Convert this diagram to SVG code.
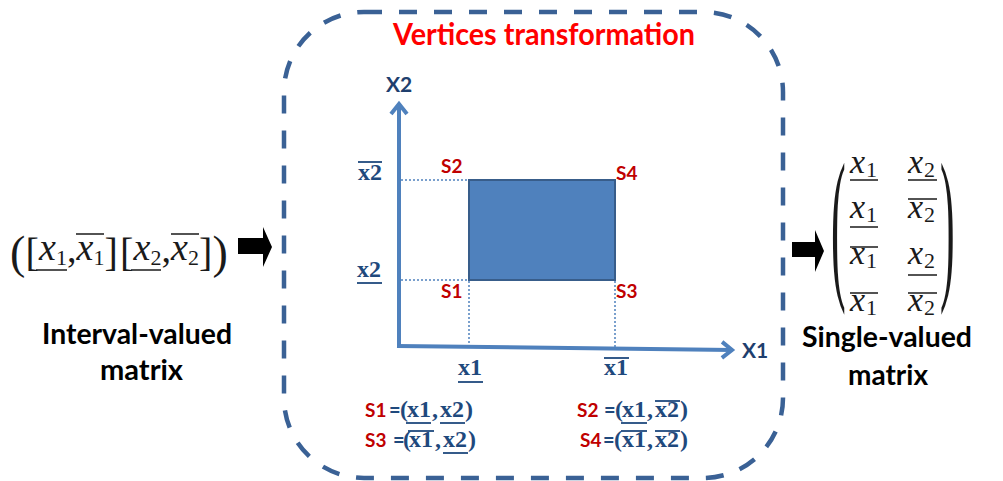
<svg xmlns="http://www.w3.org/2000/svg" width="1003" height="481" viewBox="0 0 1003 481">
<style>
.sans{font-family:Lato,"Open Sans","Liberation Sans",sans-serif;font-weight:bold}
.blk{fill:#000}
.red{fill:#C00000}
.navy{fill:#1F497D}
.bser{font-family:"Liberation Serif",serif;font-weight:bold;fill:#1F497D}
.mx{font-family:"Liberation Serif","Times New Roman",serif;fill:#1a1a1a}
.bar{stroke:#1a1a1a;stroke-width:1.5}
.nbar{stroke:#1F497D;stroke-width:1.8}
.dot{stroke:#4F81BD;stroke-width:1.5;stroke-dasharray:2 2;fill:none}
.axis{stroke:#4F81BD;stroke-width:4;fill:none}
</style>
<defs>
<marker id="open" viewBox="-14 -12 18 24" markerUnits="userSpaceOnUse" markerWidth="18" markerHeight="24" refX="0" refY="0" orient="auto">
<path d="M-10,-8 L0,0 L-10,8" fill="none" stroke="#4F81BD" stroke-width="4" stroke-linejoin="miter"/>
</marker>
</defs>
<rect width="1003" height="481" fill="#fff"/>

<g id="frame">
<rect x="284" y="12" width="499" height="466" rx="80" ry="80" fill="none" stroke="#3A6195" stroke-width="4.5" stroke-dasharray="18 17"/>
<text class="sans" x="393" y="45" font-size="31" fill="#FF0000" textLength="302" lengthAdjust="spacingAndGlyphs">Vertices transformation</text>
</g>

<g id="interval-matrix">
<text class="mx" font-size="38"><tspan x="10" y="268" font-size="46">(</tspan><tspan x="25.5" y="266" font-size="40">[</tspan><tspan x="39" y="260" font-style="italic">x</tspan><tspan x="56" y="265" font-size="22">1</tspan><tspan x="67" y="262">,</tspan><tspan x="76.5" y="260" font-style="italic">x</tspan><tspan x="93.5" y="265" font-size="22">1</tspan><tspan x="104.5" y="266" font-size="40">]</tspan><tspan x="120" y="266" font-size="40">[</tspan><tspan x="133.5" y="260" font-style="italic">x</tspan><tspan x="150.5" y="265" font-size="22">2</tspan><tspan x="161.5" y="262">,</tspan><tspan x="171" y="260" font-style="italic">x</tspan><tspan x="188" y="265" font-size="22">2</tspan><tspan x="199" y="266" font-size="40">]</tspan><tspan x="212.5" y="268" font-size="46">)</tspan></text>
<line class="bar" x1="36" y1="270" x2="67" y2="270"/>
<line class="bar" x1="76" y1="234" x2="104" y2="234"/>
<line class="bar" x1="131" y1="270" x2="161" y2="270"/>
<line class="bar" x1="171" y1="234" x2="199" y2="234"/>
<text class="sans blk" x="42" y="344" font-size="28" textLength="190" lengthAdjust="spacingAndGlyphs">Interval-valued</text>
<text class="sans blk" x="100" y="380" font-size="28" textLength="83" lengthAdjust="spacingAndGlyphs">matrix</text>
</g>

<g id="plot">
<rect x="469" y="180" width="146" height="100" fill="#4F81BD" stroke="#385D8A" stroke-width="2"/>
<text class="sans" x="386" y="92" font-size="21" fill="#1F3F6E">X2</text>
<text class="sans" x="742" y="358" font-size="21" fill="#1F3F6E">X1</text>
<text class="sans red" x="441" y="173" font-size="19">S2</text>
<text class="sans red" x="616" y="180" font-size="19">S4</text>
<text class="sans red" x="441" y="298" font-size="19">S1</text>
<text class="sans red" x="616" y="298" font-size="19">S3</text>
<text class="bser" x="358" y="180" font-size="24">x2</text>
<line class="nbar" x1="358" y1="162" x2="382" y2="162"/>
<text class="bser" x="357" y="277" font-size="24">x2</text>
<line class="nbar" x1="357" y1="283" x2="382" y2="283"/>
<text class="bser" x="458" y="375" font-size="24">x1</text>
<line class="nbar" x1="458" y1="382" x2="483" y2="382"/>
<text class="bser" x="604" y="375" font-size="24">x1</text>
<line class="nbar" x1="604" y1="358" x2="629" y2="358"/>
</g>

<g id="vertices">
<text class="sans red" x="365" y="417" font-size="19">S1</text>
<text class="bser" font-size="24"><tspan class="sans" x="389" y="417" font-size="20">=</tspan><tspan x="400" y="417">(</tspan><tspan x="407">x1</tspan><tspan x="432">,</tspan><tspan x="440">x2</tspan><tspan x="465">)</tspan></text>
<line class="nbar" x1="406" y1="423" x2="431" y2="423"/>
<line class="nbar" x1="440" y1="423" x2="465" y2="423"/>

<text class="sans red" x="365" y="447" font-size="19">S3</text>
<text class="bser" font-size="24"><tspan class="sans" x="393" y="447" font-size="20">=</tspan><tspan x="403" y="447">(</tspan><tspan x="409">x1</tspan><tspan x="435">,</tspan><tspan x="443">x2</tspan><tspan x="468">)</tspan></text>
<line class="nbar" x1="408" y1="431" x2="434" y2="431"/>
<line class="nbar" x1="443" y1="453" x2="468" y2="453"/>

<text class="sans red" x="577" y="417" font-size="19">S2</text>
<text class="bser" font-size="24"><tspan class="sans" x="604" y="417" font-size="20">=</tspan><tspan x="615" y="417">(</tspan><tspan x="622">x1</tspan><tspan x="647">,</tspan><tspan x="655">x2</tspan><tspan x="680">)</tspan></text>
<line class="nbar" x1="621" y1="423" x2="647" y2="423"/>
<line class="nbar" x1="655" y1="401" x2="680" y2="401"/>

<text class="sans red" x="580" y="447" font-size="19">S4</text>
<text class="bser" font-size="24"><tspan class="sans" x="603" y="447" font-size="20">=</tspan><tspan x="614" y="447">(</tspan><tspan x="622">x1</tspan><tspan x="647">,</tspan><tspan x="655">x2</tspan><tspan x="680">)</tspan></text>
<line class="nbar" x1="621" y1="431" x2="647" y2="431"/>
<line class="nbar" x1="655" y1="431" x2="680" y2="431"/>
</g>

<g id="single-matrix">
<text class="mx" transform="translate(831,279) scale(1,3.8)" font-size="44">(</text>
<text class="mx" transform="translate(940,279) scale(1,3.8)" font-size="44">)</text>
<text class="mx" font-size="34"><tspan x="850" y="173" font-style="italic">x</tspan><tspan x="866" y="177" font-size="22">1</tspan><tspan x="908" y="173" font-style="italic">x</tspan><tspan x="924" y="177" font-size="22">2</tspan></text>
<text class="mx" font-size="34"><tspan x="850" y="218" font-style="italic">x</tspan><tspan x="866" y="222" font-size="22">1</tspan><tspan x="908" y="218" font-style="italic">x</tspan><tspan x="924" y="222" font-size="22">2</tspan></text>
<text class="mx" font-size="34"><tspan x="850" y="264" font-style="italic">x</tspan><tspan x="866" y="268" font-size="22">1</tspan><tspan x="908" y="264" font-style="italic">x</tspan><tspan x="924" y="268" font-size="22">2</tspan></text>
<text class="mx" font-size="34"><tspan x="850" y="311" font-style="italic">x</tspan><tspan x="866" y="315" font-size="22">1</tspan><tspan x="908" y="311" font-style="italic">x</tspan><tspan x="924" y="315" font-size="22">2</tspan></text>
<line class="bar" x1="850" y1="180" x2="878" y2="180"/>
<line class="bar" x1="908" y1="180" x2="937" y2="180"/>
<line class="bar" x1="850" y1="227" x2="878" y2="227"/>
<line class="bar" x1="908" y1="199" x2="937" y2="199"/>
<line class="bar" x1="850" y1="247" x2="878" y2="247"/>
<line class="bar" x1="908" y1="275" x2="937" y2="275"/>
<line class="bar" x1="850" y1="293" x2="878" y2="293"/>
<line class="bar" x1="908" y1="293" x2="937" y2="293"/>
<text class="sans blk" x="802" y="347" font-size="28" textLength="170" lengthAdjust="spacingAndGlyphs">Single-valued</text>
<text class="sans blk" x="848" y="385" font-size="28" textLength="80" lengthAdjust="spacingAndGlyphs">matrix</text>
</g>

<g id="connectors">
<line class="dot" x1="401" y1="180" x2="469" y2="180"/>
<line class="dot" x1="401" y1="280" x2="469" y2="280"/>
<line class="dot" x1="469" y1="281" x2="469" y2="346"/>
<line class="dot" x1="615" y1="281" x2="615" y2="347"/>
<line class="axis" x1="399" y1="348" x2="399" y2="104" marker-end="url(#open)"/>
<line class="axis" x1="397" y1="346" x2="732" y2="350" marker-end="url(#open)"/>
<path d="M238,238 H263 V227 L272,247 L263,267 V254 H238 Z" fill="#000"/>
<path d="M792,242 H815 V230 L824,251 L815,272 V257 H792 Z" fill="#000"/>
</g>
</svg>
